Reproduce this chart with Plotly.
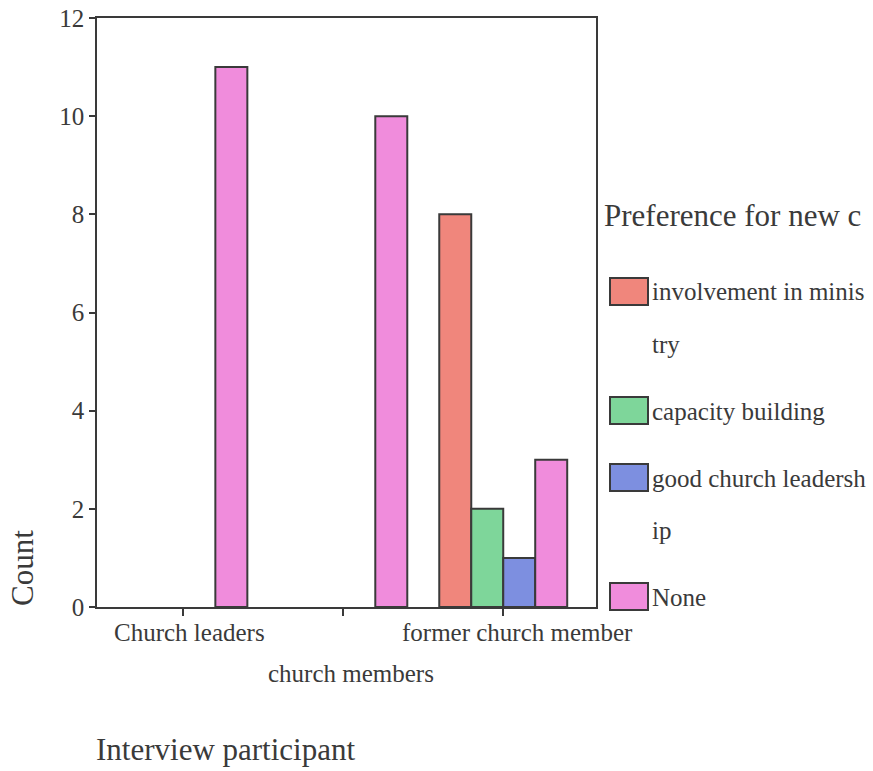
import plotly.graph_objects as go

# ---------------- data ----------------
CATEGORIES = ["Church leaders", "church members", "former church member"]
SERIES = ["involvement in minis\ntry", "capacity building", "good church leadersh\nip", "None"]
VALUES_INVOLVEMENT = [None, None, 8]
VALUES_CAPACITY = [None, None, 2]
VALUES_GOOD_LEADERSHIP = [None, None, 1]
VALUES_NONE = [11, 10, 3]
SERIES_VALUES = [VALUES_INVOLVEMENT, VALUES_CAPACITY, VALUES_GOOD_LEADERSHIP, VALUES_NONE]
Y_TICKS = [0, 2, 4, 6, 8, 10, 12]
Y_TITLE = "Count"
X_TITLE = "Interview participant"
LEGEND_TITLE = "Preference for new c"

# ---------------- styles ----------------
COLORS = ["#F0867C", "#7ED69A", "#7D8FE0", "#F08CDC"]
OUTLINE = "#3a3a3a"
TEXT = "#3a3a3a"
FONT = "Liberation Serif, Times New Roman, serif"
W, H = 873, 771
L, R, T, B = 97, 596, 18, 607    # plot area in pixels


def px(x):
    return (x - L) / (R - L)


def py(y):
    return (B - y) / (B - T)


fig = go.Figure()
for name, vals, col in zip(SERIES, SERIES_VALUES, COLORS):
    fig.add_trace(go.Bar(
        x=CATEGORIES, y=vals, name=name.replace("\n", ""),
        marker=dict(color=col, line=dict(color=OUTLINE, width=2)),
        showlegend=False,
    ))

fig.update_layout(
    width=W, height=H, autosize=False,
    margin=dict(l=L, r=W - R, t=T, b=H - B, pad=0),
    paper_bgcolor="white", plot_bgcolor="white",
    barmode="group", bargap=0.2, bargroupgap=0,
    font=dict(family=FONT, color=TEXT, size=25),
)
fig.update_xaxes(
    type="category", range=[-0.54, 2.58], automargin=False,
    showticklabels=False, ticks="outside", ticklen=7, tickwidth=1.5, tickcolor=OUTLINE,
    showline=True, linecolor=OUTLINE, linewidth=1.5, mirror=True, showgrid=False, zeroline=False,
)
fig.update_yaxes(
    range=[0, 12], tickvals=Y_TICKS, automargin=False, ticklabeloverflow="allow",
    ticks="outside", ticklen=6, tickwidth=1.5, tickcolor=OUTLINE,
    tickfont=dict(size=25, color=TEXT, family=FONT),
    showline=True, linecolor=OUTLINE, linewidth=1.5, mirror=True, showgrid=False, zeroline=False,
)

ann = []
# category labels (staggered like the original)
label_rows = [632, 673, 632]
label_shift = [6, 8, 14]
for cat, row, sh in zip(CATEGORIES, label_rows, label_shift):
    ann.append(dict(x=cat, xref="x", y=py(row), yref="paper", text=cat, showarrow=False,
                    xanchor="center", yanchor="middle", xshift=sh,
                    font=dict(size=25, family=FONT, color=TEXT)))
ann.append(dict(x=px(22), y=py(568), xref="paper", yref="paper", text=Y_TITLE, textangle=-90,
                showarrow=False, xanchor="center", yanchor="middle",
                font=dict(size=31, family=FONT, color=TEXT)))
ann.append(dict(x=px(94), y=py(749), xref="paper", yref="paper", text=X_TITLE,
                showarrow=False, xanchor="left", yanchor="middle",
                font=dict(size=31, family=FONT, color=TEXT)))
ann.append(dict(x=px(602), y=py(215), xref="paper", yref="paper", text=LEGEND_TITLE,
                showarrow=False, xanchor="left", yanchor="middle",
                font=dict(size=31, family=FONT, color=TEXT)))

# custom legend built from the series names and colours
shapes = []
ycur = 292
for name, col in zip(SERIES, COLORS):
    shapes.append(dict(type="rect", xref="paper", yref="paper",
                       x0=px(610), x1=px(648), y0=py(ycur - 14), y1=py(ycur + 13),
                       fillcolor=col, line=dict(color=OUTLINE, width=2)))
    lines = name.split("\n")
    for i, line in enumerate(lines):
        ann.append(dict(x=px(650), y=py(ycur), xref="paper", yref="paper", text=line,
                        showarrow=False, xanchor="left", yanchor="middle",
                        font=dict(size=25, family=FONT, color=TEXT)))
        if i < len(lines) - 1:
            ycur += 52
    ycur += 67

fig.update_layout(annotations=ann, shapes=shapes)
fig.write_html(
    "out.html",
    config={"displayModeBar": False},
    post_script="document.body.style.margin='0';"
                "document.body.style.overflow='hidden';"
                "document.documentElement.style.overflow='hidden';",
)
